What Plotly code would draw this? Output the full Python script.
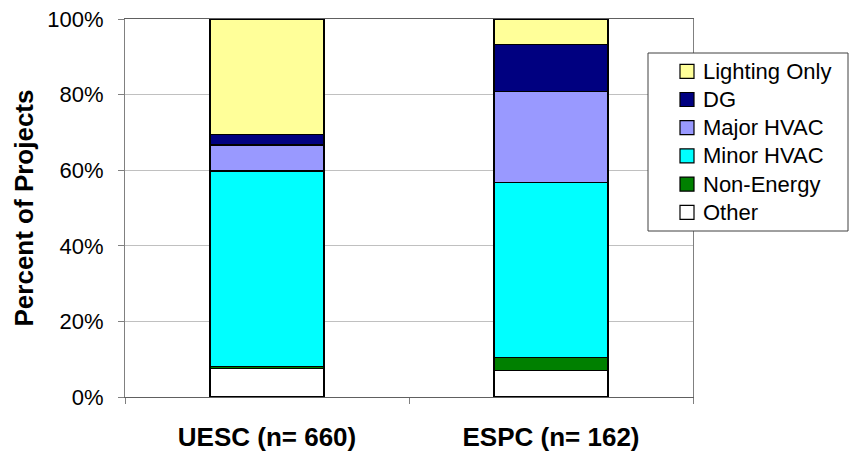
import plotly.graph_objects as go

categories = ["UESC (n= 660)", "ESPC (n= 162)"]
series_names = ["Other", "Non-Energy", "Minor HVAC", "Major HVAC", "DG", "Lighting Only"]
other = [7.6, 7.0]
non_energy = [0.5, 3.5]
minor_hvac = [51.7, 46.3]
major_hvac = [6.9, 24.0]
dg = [2.7, 12.4]
lighting_only = [30.6, 6.8]
tick_vals = [0, 20, 40, 60, 80, 100]
tick_text = ["0%", "20%", "40%", "60%", "80%", "100%"]

colors = ["#FFFFFF", "#008000", "#00FFFF", "#9999FF", "#000080", "#FFFF99"]
values = [other, non_energy, minor_hvac, major_hvac, dg, lighting_only]

FONT = "Arial, Liberation Sans, sans-serif"
W, H = 853, 451
L, R, T, B = 125, 160, 19, 54
PW, PH = W - L - R, H - T - B


def px_x(p):
    return (p - L) / PW


def px_y(p):
    return (H - B - p) / PH


fig = go.Figure()
for name, vals, col in zip(series_names, values, colors):
    fig.add_trace(go.Bar(
        x=categories, y=vals, name=name, width=0.4,
        marker=dict(color=col, line=dict(color="#000000", width=1.5)),
        showlegend=False,
    ))

# Legend drawn as a box with symbols and text (top entry = last series)
shapes = [dict(
    type="rect", xref="paper", yref="paper",
    x0=px_x(648), x1=px_x(848), y0=px_y(231), y1=px_y(53),
    line=dict(color="#404040", width=1), fillcolor="white", layer="above",
)]
annotations = []
row0, gap = 70.8, 28.2
for i, (name, col) in enumerate(zip(series_names[::-1], colors[::-1])):
    cy = row0 + i * gap
    shapes.append(dict(
        type="rect", xref="paper", yref="paper",
        x0=px_x(680), x1=px_x(694), y0=px_y(cy + 7.5), y1=px_y(cy - 6.5),
        line=dict(color="#000000", width=1.2), fillcolor=col, layer="above",
    ))
    annotations.append(dict(
        text=name, xref="paper", yref="paper",
        x=px_x(701), y=px_y(cy + 0.5), xanchor="left", yanchor="middle",
        showarrow=False, font=dict(size=22, family=FONT, color="black"),
    ))

fig.update_layout(
    width=W, height=H,
    margin=dict(l=L, r=R, t=T, b=B, autoexpand=False),
    barmode="stack",
    paper_bgcolor="white", plot_bgcolor="white",
    font=dict(family=FONT, color="black", size=22),
    showlegend=False,
    shapes=shapes,
    annotations=annotations,
    xaxis=dict(
        type="category",
        showline=True, linecolor="#606060", linewidth=1, mirror=True,
        ticks="outside", tickson="boundaries", ticklen=6, tickcolor="#808080",
        tickfont=dict(size=26, family=FONT, color="black", weight="bold"),
        ticklabelstandoff=17,
        showgrid=False,
    ),
    yaxis=dict(
        range=[0, 100],
        tickvals=tick_vals, ticktext=tick_text,
        showline=True, linecolor="#808080", linewidth=1, mirror=True,
        ticks="outside", ticklen=6, tickcolor="#808080",
        tickfont=dict(size=22, family=FONT, color="black"),
        ticklabelstandoff=10,
        showgrid=True, gridcolor="#C0C0C0", gridwidth=1,
        zeroline=False,
        title=dict(text="Percent of Projects", standoff=6,
                   font=dict(size=26, family=FONT, color="black", weight="bold")),
    ),
)

fig.write_html("out.html", config={"displayModeBar": False},
               post_script="document.body.style.margin='0px';")
